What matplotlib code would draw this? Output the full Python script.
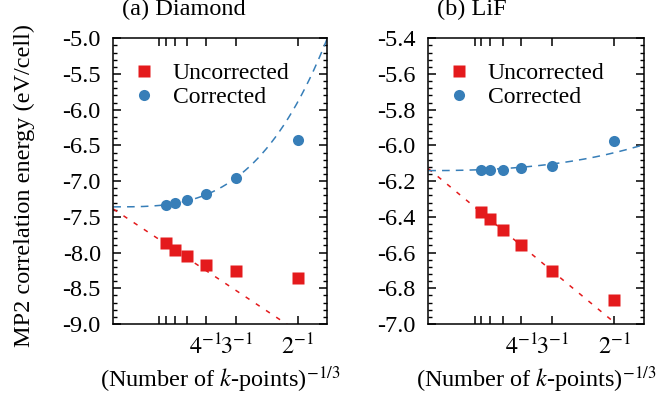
import numpy as np
import matplotlib
matplotlib.use("Agg")
import matplotlib.pyplot as plt
from matplotlib.ticker import MultipleLocator, FormatStrFormatter, FixedLocator
from numpy.polynomial import polynomial as P

plt.rcParams["font.family"] = ["Liberation Serif", "DejaVu Serif"]
plt.rcParams["mathtext.fontset"] = "stix"
plt.rcParams["axes.unicode_minus"] = False

# k-point mesh sizes n (n x n x n meshes)
mesh_n = [2, 3, 4, 5, 6, 7]
tick_n = [2, 3, 4, 5, 6, 7, 8]
tick_labels = ["$2^{-1}$", "$3^{-1}$", "$4^{-1}$", "", "", "", ""]

# MP2 correlation energies (eV/cell)
diamond_uncorr = [-8.35, -8.26, -8.17, -8.05, -7.96, -7.87]
diamond_corr = [-6.42, -6.96, -7.18, -7.27, -7.31, -7.33]
lif_uncorr = [-6.867, -6.705, -6.559, -6.475, -6.412, -6.374]
lif_corr = [-5.973, -6.115, -6.128, -6.136, -6.137, -6.137]

# extrapolation curves, polynomial coefficients in x (lowest order first)
diamond_uncorr_fit = [-7.39, -3.43]
diamond_corr_fit = [-7.36, 0.0, 0.0, 9.69, 4.14]
lif_uncorr_fit = [-6.13, -1.72]
lif_corr_fit = [-6.141, 0.0, 0.2, 0.4]

RED = "#e41a1c"
BLUE = "#377eb8"
FS = 17.5

fig = plt.figure(figsize=(6.56, 4.04), dpi=100)
ax1 = fig.add_axes([113.3 / 656, 80 / 404, 214 / 656, 285.7 / 404])
ax2 = fig.add_axes([428.3 / 656, 80 / 404, 215.5 / 656, 285.7 / 404])

panels = [
    (ax1, "(a) Diamond", diamond_uncorr, diamond_corr, diamond_uncorr_fit,
     diamond_corr_fit, (-9.0, -5.0), 0.5, 0.1),
    (ax2, "(b) LiF", lif_uncorr, lif_corr, lif_uncorr_fit,
     lif_corr_fit, (-7.0, -5.4), 0.2, 0.04),
]

x = 1.0 / np.array(mesh_n, dtype=float)
xf = np.linspace(0.0, 0.58, 300)

for ax, title, unc, cor, unc_fit, cor_fit, ylim, major, minor in panels:
    ax.plot(xf, P.polyval(xf, unc_fit), color=RED, lw=1.1,
            dashes=(3, 5), zorder=2)
    ax.plot(xf, P.polyval(xf, cor_fit), color=BLUE, lw=1.1,
            dashes=(5, 4), zorder=2)
    ax.plot(x, unc, "s", color=RED, ms=8.2, mec="none", label="Uncorrected",
            zorder=3)
    ax.plot(x, cor, "o", color=BLUE, ms=8.0, mec="none", label="Corrected",
            zorder=3)

    ax.set_xlim(0.0, 0.58)
    ax.set_ylim(*ylim)
    ax.xaxis.set_major_locator(FixedLocator(1.0 / np.array(tick_n, dtype=float)))
    ax.set_xticklabels(tick_labels)
    ax.yaxis.set_major_locator(MultipleLocator(major))
    ax.yaxis.set_minor_locator(MultipleLocator(minor))
    ax.yaxis.set_major_formatter(FormatStrFormatter("%.1f"))

    ax.tick_params(axis="x", which="major", direction="in", top=True,
                   length=6, width=1.1, pad=7, labelsize=FS)
    ax.tick_params(axis="y", which="major", direction="in", right=True,
                   length=5.5, width=1.1, pad=9, labelsize=FS)
    ax.tick_params(axis="y", which="minor", direction="in", right=True,
                   length=3, width=1.0)
    for s in ax.spines.values():
        s.set_linewidth(1.1)

    ax.set_xlabel("(Number of $k$-points)$^{-1/3}$", fontsize=FS)
    ax.xaxis.set_label_coords(0.5, -0.14)

    ax.text(0.04, 1.08, title, transform=ax.transAxes, fontsize=FS,
            ha="left", va="baseline")

    ax.legend(loc="upper left", bbox_to_anchor=(0.088, 0.915), frameon=False,
              fontsize=17, handlelength=1.0, handletextpad=0.72,
              labelspacing=0.1, borderpad=0.0, borderaxespad=0.0,
              numpoints=1)

fig.text(24 / 656, 0.542, "MP2 correlation energy (eV/cell)", rotation=90,
         fontsize=FS, ha="center", va="center")

fig.savefig("out.png", dpi=100)
